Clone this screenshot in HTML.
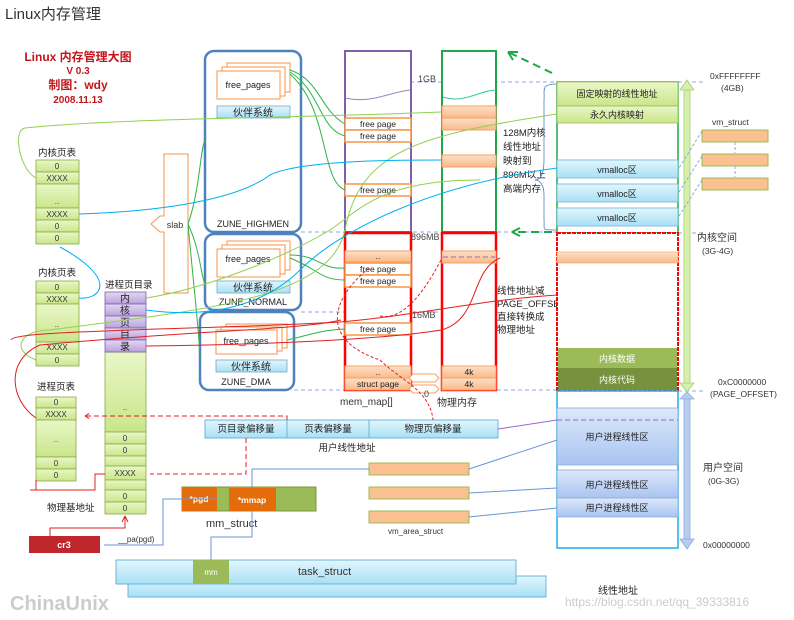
<!DOCTYPE html>
<html><head><meta charset="utf-8">
<style>
html,body{margin:0;padding:0;background:#fff;}
svg{display:block;font-family:"Liberation Sans","Noto Sans CJK SC",sans-serif;}
</style></head>
<body>
<svg width="794" height="620" viewBox="0 0 794 620" xmlns="http://www.w3.org/2000/svg">
<defs>
<linearGradient id="lg" x1="0" y1="0" x2="0" y2="1"><stop offset="0" stop-color="#eaf7c8"/><stop offset="1" stop-color="#c9e68a"/></linearGradient>
<linearGradient id="lb" x1="0" y1="0" x2="0" y2="1"><stop offset="0" stop-color="#e3f6fd"/><stop offset="1" stop-color="#a8e0f6"/></linearGradient>
<linearGradient id="lu" x1="0" y1="0" x2="0" y2="1"><stop offset="0" stop-color="#dde8fb"/><stop offset="1" stop-color="#a9c4f0"/></linearGradient>
<linearGradient id="lo" x1="0" y1="0" x2="0" y2="1"><stop offset="0" stop-color="#fde0c8"/><stop offset="1" stop-color="#f9b98a"/></linearGradient>
<linearGradient id="lp" x1="0" y1="0" x2="0" y2="1"><stop offset="0" stop-color="#e4d8f3"/><stop offset="1" stop-color="#b9a2dc"/></linearGradient>
</defs>
<text x="5" y="19" font-size="15" fill="#333">Linux内存管理</text>
<g fill="#c0161c" font-weight="bold" text-anchor="middle">
<text x="78" y="61" font-size="12">Linux 内存管理大图</text>
<text x="78" y="74" font-size="10">V 0.3</text>
<text x="78" y="89" font-size="12">制图：wdy</text>
<text x="78" y="103" font-size="10">2008.11.13</text>
</g>

<!-- zones -->
<g fill="none" stroke="#4f81bd" stroke-width="2.5">
<rect x="205" y="51" width="96" height="181" rx="9"/>
<rect x="205" y="234" width="96" height="76" rx="9"/>
<rect x="200" y="312" width="94" height="78" rx="9"/>
</g>
<g fill="#fff" stroke="#f79646" stroke-width="1">
<rect x="227" y="63" width="63" height="29"/><rect x="222" y="67" width="63" height="29"/><rect x="217" y="71" width="63" height="28"/>
<rect x="227" y="241" width="63" height="29"/><rect x="222" y="245" width="63" height="29"/><rect x="217" y="249" width="63" height="28"/>
<rect x="226" y="324" width="61" height="24"/><rect x="221" y="327" width="61" height="24"/><rect x="216" y="330" width="61" height="24"/>
</g>
<g font-size="9" fill="#222" text-anchor="middle">
<text x="248" y="88">free_pages</text><text x="248" y="262">free_pages</text><text x="246" y="344">free_pages</text>
</g>
<g fill="url(#lb)" stroke="#7ab" stroke-width="0.8">
<rect x="217" y="106" width="73" height="12"/><rect x="217" y="281" width="73" height="12"/><rect x="216" y="360" width="71" height="12"/>
</g>
<g font-size="10" fill="#222" text-anchor="middle">
<text x="253" y="116">伙伴系统</text><text x="253" y="291">伙伴系统</text><text x="251" y="370">伙伴系统</text>
<text x="253" y="227" font-size="9">ZUNE_HIGHMEN</text><text x="253" y="305" font-size="9">ZUNE_NORMAL</text><text x="246" y="385" font-size="9">ZUNE_DMA</text>
</g>
<!-- slab -->
<path d="M164,154 H188 V293 H164 V232 H160 L151,224 L160,216 H164 Z" fill="#fff" stroke="#f79646"/>
<text x="175" y="228" font-size="9" text-anchor="middle" fill="#333">slab</text>

<!-- dashed horizontals -->
<g stroke="#8eaadb" stroke-dasharray="4,3" fill="none">
<line x1="410" y1="82" x2="557" y2="82"/><line x1="678" y1="82" x2="705" y2="82"/>
<line x1="301" y1="232" x2="557" y2="232"/><line x1="678" y1="233" x2="705" y2="233"/>
<line x1="301" y1="312" x2="496" y2="312"/>
<line x1="294" y1="390" x2="557" y2="390"/><line x1="678" y1="391" x2="705" y2="391"/>
</g>

<!-- mem_map -->
<rect x="345" y="51" width="66" height="181" fill="#fff" stroke="#7f5fa8" stroke-width="2"/>
<rect x="345" y="233" width="66" height="157" fill="#fff" stroke="#f00" stroke-width="2.5"/>
<path d="M346,98 C370,104 390,92 410,90" stroke="#9b7fc6" fill="none"/>
<g fill="#fff" stroke="#f79646" stroke-width="1.5">
<rect x="345" y="118" width="66" height="12"/><rect x="345" y="130" width="66" height="12"/><rect x="345" y="184" width="66" height="12"/>
<rect x="345" y="263" width="66" height="12"/><rect x="345" y="275" width="66" height="12"/><rect x="345" y="323" width="66" height="12"/>
</g>
<g fill="url(#lo)" stroke="#f7a060"><rect x="345" y="251" width="66" height="11"/><rect x="345" y="366" width="66" height="12"/><rect x="345" y="378" width="66" height="12"/></g>
<g font-size="8.5" fill="#222" text-anchor="middle">
<text x="378" y="127">free page</text><text x="378" y="139">free page</text><text x="378" y="193">free page</text>
<text x="378" y="272">free page</text><text x="378" y="284">free page</text><text x="378" y="332">free page</text>
<text x="378" y="259">..</text><text x="378" y="375">..</text><text x="378" y="387">struct  page</text>
</g>
<!-- physical -->
<rect x="442" y="51" width="54" height="181" fill="#fff" stroke="#1ea84a" stroke-width="2"/>
<rect x="442" y="233" width="54" height="157" fill="#fff" stroke="#f00" stroke-width="2.5"/>
<path d="M443,97 C465,104 480,90 496,90" stroke="#3c9" fill="none"/>
<g fill="url(#lo)" stroke="#f7a060">
<rect x="442" y="106" width="54" height="12"/><rect x="442" y="118" width="54" height="12"/><rect x="442" y="155" width="54" height="12"/>
<rect x="442" y="251" width="54" height="12"/><rect x="442" y="366" width="54" height="12"/><rect x="442" y="378" width="54" height="12"/>
</g>
<line x1="443" y1="257" x2="495" y2="257" stroke="#9966cc" stroke-dasharray="5,3"/>
<g font-size="8.5" fill="#222" text-anchor="middle"><text x="469" y="375">4k</text><text x="469" y="387">4k</text></g>
<path d="M413,374 h22 l4,4 l-4,4 h-22 l-4,-4 z M413,385 h22 l4,4 l-4,4 h-22 l-4,-4 z" fill="#fff" stroke="#f7a060"/>
<g font-size="9" fill="#444">
<text x="418" y="82">1GB</text><text x="411" y="240">896MB</text><text x="412" y="318">16MB</text><text x="424" y="397">0</text>
</g>
<text x="340" y="405" font-size="10" fill="#333">mem_map[]</text>
<text x="437" y="406" font-size="10" fill="#333">物理内存</text>
<g font-size="9.5" fill="#222">
<text x="503" y="136">128M内核</text><text x="503" y="150">线性地址</text><text x="503" y="164">映射到</text><text x="503" y="178">896M以上</text><text x="503" y="192">高端内存</text>
<text x="497" y="294">线性地址减</text><text x="497" y="307">PAGE_OFFSET</text><text x="497" y="320">直接转换成</text><text x="497" y="333">物理地址</text>
</g>
<path d="M557,84 C540,84 545,90 544,100 V160 C544,175 540,180 535,180" fill="none" stroke="#4f81bd" stroke-width="0.8"/>
<path d="M535,180 C540,180 544,185 544,195 V220 C545,230 540,230 557,230" fill="none" stroke="#4f81bd" stroke-width="0.8"/>
<path d="M552,73 L508,52" stroke="#1ea84a" stroke-width="2" stroke-dasharray="8,5" fill="none"/>
<path d="M508,52 l10,0 M508,52 l5,8" stroke="#1ea84a" stroke-width="2" fill="none"/>
<path d="M552,232 L512,232" stroke="#1ea84a" stroke-width="2" stroke-dasharray="8,5"/>
<path d="M512,232 l8,-4 M512,232 l8,4" stroke="#1ea84a" stroke-width="2"/>

<!-- right column -->
<rect x="557" y="82" width="121" height="151" fill="#fff" stroke="#1ea84a" stroke-width="1.5"/>
<rect x="557" y="82" width="121" height="24" fill="url(#lg)" stroke="#9bbb59" stroke-width="0.8"/>
<rect x="557" y="106" width="121" height="17" fill="url(#lg)" stroke="#9bbb59" stroke-width="0.8"/>
<g fill="url(#lb)" stroke="#6cb4d8" stroke-width="0.8">
<rect x="557" y="160" width="121" height="18"/><rect x="557" y="184" width="121" height="18"/><rect x="557" y="208" width="121" height="18"/>
</g>
<rect x="557" y="233" width="121" height="158" fill="#fff" stroke="#f00" stroke-width="2" stroke-dasharray="4,1"/>
<rect x="557" y="252" width="121" height="11" fill="url(#lo)" stroke="#f7a060" stroke-width="0.6"/>
<rect x="558" y="348" width="119" height="20" fill="#9bbb59"/>
<rect x="558" y="368" width="119" height="22" fill="#76923c"/>
<rect x="557" y="391" width="121" height="157" fill="#fff" stroke="#1bb0e8" stroke-width="1.5"/>
<g fill="url(#lu)" stroke="#8eaadb" stroke-width="0.8">
<rect x="557" y="408" width="121" height="57"/><rect x="557" y="470" width="121" height="28"/><rect x="557" y="498" width="121" height="19"/>
</g>
<line x1="557" y1="420" x2="678" y2="420" stroke="#9966cc" stroke-dasharray="5,3"/>
<g font-size="9" fill="#222" text-anchor="middle">
<text x="617" y="97">固定映射的线性地址</text><text x="617" y="118">永久内核映射</text>
<text x="617" y="173">vmalloc区</text><text x="617" y="197">vmalloc区</text><text x="617" y="221">vmalloc区</text>
<text x="617" y="362" fill="#fff">内核数据</text><text x="617" y="383" fill="#fff">内核代码</text>
<text x="617" y="440">用户进程线性区</text><text x="617" y="488">用户进程线性区</text><text x="617" y="511">用户进程线性区</text>
</g>
<!-- vertical arrows -->
<rect x="684" y="88" width="6" height="297" fill="#d6eeb0" stroke="#a5cf6a" stroke-width="0.8"/>
<path d="M680,90 L687,80 L694,90 Z M680,383 L687,392 L694,383 Z" fill="#d6eeb0" stroke="#a5cf6a" stroke-width="0.8"/>
<rect x="684" y="397" width="6" height="144" fill="#b7cdee" stroke="#8eaadb" stroke-width="0.8"/>
<path d="M680,399 L687,392 L694,399 Z M680,539 L687,549 L694,539 Z" fill="#b7cdee" stroke="#8eaadb" stroke-width="0.8"/>
<g font-size="8.5" fill="#333">
<text x="710" y="79">0xFFFFFFFF</text><text x="721" y="91">(4GB)</text>
<text x="712" y="125">vm_struct</text>
<text x="697" y="241" font-size="10">内核空间</text><text x="702" y="254">(3G-4G)</text>
<text x="718" y="385">0xC0000000</text><text x="710" y="397">(PAGE_OFFSET)</text>
<text x="703" y="471" font-size="10">用户空间</text><text x="708" y="484">(0G-3G)</text>
<text x="703" y="548">0x00000000</text>
</g>
<g fill="#fac090" stroke="#9bbb59"><rect x="702" y="130" width="66" height="12"/><rect x="702" y="154" width="66" height="12"/><rect x="702" y="178" width="66" height="12"/></g>
<g stroke="#8eaadb" stroke-dasharray="3,2" fill="none">
<line x1="735" y1="142" x2="735" y2="153"/><line x1="735" y1="166" x2="735" y2="177"/>
<line x1="702" y1="131" x2="679" y2="168"/><line x1="702" y1="156" x2="679" y2="192"/><line x1="702" y1="180" x2="679" y2="216"/>
</g>

<!-- left tables -->
<g font-size="9.5" fill="#222"><text x="38" y="156">内核页表</text><text x="38" y="276">内核页表</text><text x="37" y="390">进程页表</text><text x="105" y="288">进程页目录</text><text x="47" y="511">物理基地址</text></g>
<g fill="url(#lg)" stroke="#8aaa44" stroke-width="0.8">
<rect x="36" y="160" width="43" height="12"/><rect x="36" y="172" width="43" height="12"/><rect x="36" y="184" width="43" height="24"/><rect x="36" y="208" width="43" height="12"/><rect x="36" y="220" width="43" height="12"/><rect x="36" y="232" width="43" height="12"/>
<rect x="36" y="281" width="43" height="12"/><rect x="36" y="293" width="43" height="11"/><rect x="36" y="304" width="43" height="38"/><rect x="36" y="342" width="43" height="12"/><rect x="36" y="354" width="43" height="12"/>
<rect x="36" y="397" width="40" height="11"/><rect x="36" y="408" width="40" height="12"/><rect x="36" y="420" width="40" height="37"/><rect x="36" y="457" width="40" height="12"/><rect x="36" y="469" width="40" height="12"/>
<rect x="105" y="352" width="41" height="80"/><rect x="105" y="432" width="41" height="12"/><rect x="105" y="444" width="41" height="12"/><rect x="105" y="456" width="41" height="10"/><rect x="105" y="466" width="41" height="14"/><rect x="105" y="480" width="41" height="10"/><rect x="105" y="490" width="41" height="12"/><rect x="105" y="502" width="41" height="12"/>
</g>
<g fill="url(#lp)" stroke="#7f5fa8" stroke-width="0.8">
<rect x="105" y="292" width="41" height="12"/><rect x="105" y="304" width="41" height="12"/><rect x="105" y="316" width="41" height="12"/><rect x="105" y="328" width="41" height="12"/><rect x="105" y="340" width="41" height="12"/>
</g>
<g font-size="8" fill="#333" text-anchor="middle">
<text x="57" y="169">0</text><text x="57" y="181">XXXX</text><text x="57" y="204">..</text><text x="57" y="217">XXXX</text><text x="57" y="229">0</text><text x="57" y="241">0</text>
<text x="57" y="290">0</text><text x="57" y="302">XXXX</text><text x="57" y="327">..</text><text x="57" y="350">XXXX</text><text x="57" y="363">0</text>
<text x="56" y="405">0</text><text x="56" y="417">XXXX</text><text x="56" y="442">..</text><text x="56" y="466">0</text><text x="56" y="478">0</text>
<text x="125" y="410">..</text><text x="125" y="441">0</text><text x="125" y="453">0</text><text x="125" y="476">XXXX</text><text x="125" y="499">0</text><text x="125" y="511">0</text>
<g font-size="10" fill="#222"><text x="125" y="302">内</text><text x="125" y="314">核</text><text x="125" y="326">页</text><text x="125" y="338">目</text><text x="125" y="350">录</text></g>
</g>
<rect x="29" y="536" width="71" height="17" fill="#c0272d"/>
<text x="64" y="548" font-size="9" fill="#fff" text-anchor="middle" font-weight="bold">cr3</text>
<text x="118" y="542" font-size="8" fill="#333">__pa(pgd)</text>

<!-- address bar -->
<g fill="url(#lb)" stroke="#6cb4d8"><rect x="205" y="420" width="82" height="18"/><rect x="287" y="420" width="82" height="18"/><rect x="369" y="420" width="129" height="18"/></g>
<g font-size="9.5" fill="#222" text-anchor="middle"><text x="246" y="432">页目录偏移量</text><text x="328" y="432">页表偏移量</text><text x="433" y="432">物理页偏移量</text><text x="347" y="451">用户线性地址</text></g>

<!-- mm_struct -->
<rect x="182" y="487" width="134" height="24" fill="#9bbb59" stroke="#7a9a3a"/>
<rect x="182" y="487" width="35" height="24" fill="#e46c0a"/><rect x="229" y="488" width="47" height="23" fill="#e46c0a"/>
<text x="199" y="502" font-size="8.5" fill="#fff" text-anchor="middle" font-weight="bold">*pgd</text>
<text x="252" y="503" font-size="8.5" fill="#fff" text-anchor="middle" font-weight="bold">*mmap</text>
<text x="206" y="527" font-size="11" fill="#333">mm_struct</text>
<g fill="#fac090" stroke="#9bbb59"><rect x="369" y="463" width="100" height="12"/><rect x="369" y="487" width="100" height="12"/><rect x="369" y="511" width="100" height="12"/></g>
<text x="388" y="534" font-size="8" fill="#333">vm_area_struct</text>

<!-- task_struct -->
<rect x="128" y="576" width="418" height="21" fill="url(#lb)" stroke="#6cb4d8"/>
<rect x="116" y="560" width="400" height="24" fill="url(#lb)" stroke="#6cb4d8"/>
<rect x="193" y="560" width="36" height="24" fill="#9bbb59"/>
<text x="211" y="575" font-size="8" fill="#fff" text-anchor="middle">mm</text>
<text x="298" y="575" font-size="11" fill="#333">task_struct</text>
<text x="598" y="594" font-size="10" fill="#222">线性地址</text>
<text x="10" y="610" font-size="20" fill="#ccc" font-weight="bold">ChinaUnix</text>
<text x="565" y="606" font-size="12" fill="#ccc">https://blog.csdn.net/qq_39333816</text>

<!-- connectors -->
<g fill="none" stroke-width="1">
<path d="M290,70 C320,80 320,110 345,124 M290,72 C320,90 320,130 345,136 M290,74 C330,110 320,180 345,190" stroke="#2db34a"/>
<path d="M290,255 C320,255 320,270 345,268 M290,258 C320,270 320,280 345,280 M287,340 C310,335 320,330 345,329" stroke="#2db34a"/>
<path d="M188,224 C200,190 200,150 205,140 M188,224 C200,250 200,270 205,285 M188,224 C195,300 200,340 200,360" stroke="#2db34a"/>
<path d="M36,178 C20,170 12,130 25,128 C120,118 300,118 441,112" stroke="#92d050"/>
<path d="M36,360 C10,350 20,330 50,330 C200,310 330,300 345,230 C360,150 420,135 557,114" stroke="#92d050"/>
<path d="M146,298 C200,290 280,260 330,230 C360,210 380,180 480,180" stroke="#92d050"/>
<path d="M79,214 C200,210 250,190 270,175 C300,160 400,160 441,160" stroke="#00b0f0"/>
<path d="M146,310 C220,320 270,300 300,270 C340,230 430,185 557,168" stroke="#00b0f0"/>
<path d="M79,298 C100,300 120,280 60,247" stroke="#00b0f0"/>
<path d="M11,340 C10,330 200,330 340,322 C420,315 480,300 557,295" stroke="#e02020"/>
<path d="M146,346 C250,345 380,340 441,330 C480,320 470,270 500,258" stroke="#e02020"/>
<path d="M36,418 C10,400 5,360 40,345 C200,330 300,330 341,320" stroke="#e02020"/>
<path d="M36,480 L36,490 L30,490 L30,490 L95,490 L95,474 L105,474" stroke="#e02020"/>
<path d="M50,536 L50,528 L125,528 L125,516" stroke="#e02020"/>
<path d="M125,516 l-3,6 M125,516 l3,6" stroke="#e02020"/>
<path d="M287,420 V416 H85 M85,416 l5,-3 M85,416 l5,3" stroke="#e02020" stroke-dasharray="5,3"/>
<path d="M246,438 V474 H150" stroke="#e02020" stroke-dasharray="5,3"/>
<path d="M369,268 C330,300 320,340 380,360 C400,380 430,390 433,420" stroke="#e02020" stroke-dasharray="3,2"/>
<path d="M380,316 C400,320 420,300 441,260" stroke="#e02020" stroke-dasharray="3,2"/>
<path d="M217,499 H163 V545 H104" stroke="#6a95d4"/>
<path d="M211,560 V537 H252 V511" stroke="#6a95d4"/>
<path d="M252,487 V469 H369" stroke="#6a95d4"/>
<path d="M469,469 L557,440 M469,493 L557,488 M469,517 L557,508" stroke="#6a95d4"/>
<path d="M498,429 L557,420" stroke="#9966cc"/>
</g>
</svg>
</body></html>
